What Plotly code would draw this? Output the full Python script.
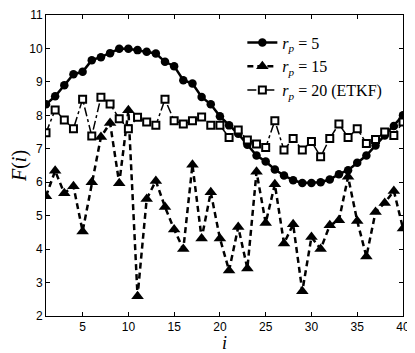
# F(i) for three localisation radii, redrawn with plotly
import plotly.graph_objects as go

idx = list(range(1, 41))

rp5 = [8.33, 8.57, 8.90, 9.23, 9.30, 9.65, 9.74, 9.86, 9.99, 9.99,
       9.95, 9.90, 9.85, 9.60, 9.47, 9.05, 8.95, 8.55, 8.33, 7.97,
       7.70, 7.45, 7.12, 6.80, 6.62, 6.38, 6.20, 6.06, 5.98, 5.98,
       6.00, 6.08, 6.24, 6.36, 6.58, 6.80, 7.10, 7.40, 7.68, 8.00]

rp15 = [5.58, 6.34, 5.67, 5.88, 4.53, 6.00, 7.35, 7.77, 5.97, 8.15,
        2.59, 5.50, 6.04, 5.26, 4.59, 4.00, 6.52, 4.32, 5.70, 4.32,
        3.36, 4.66, 3.42, 6.31, 4.78, 5.94, 4.17, 4.74, 2.74, 4.36,
        4.00, 4.71, 4.86, 6.16, 4.84, 3.78, 5.11, 5.38, 5.74, 4.62]

rp20 = [7.48, 8.16, 7.86, 7.60, 8.48, 7.38, 8.54, 8.34, 7.90, 7.60,
        7.94, 7.80, 7.70, 8.48, 7.84, 7.74, 7.84, 7.95, 7.70, 7.70,
        7.34, 7.56, 7.26, 7.14, 7.04, 7.84, 6.96, 7.31, 6.96, 7.22,
        6.76, 7.31, 7.74, 7.34, 7.60, 7.16, 7.28, 7.50, 7.40, 7.80]

names = ["<i>r</i><sub><i>p</i></sub> = 5",
         "<i>r</i><sub><i>p</i></sub> = 15",
         "<i>r</i><sub><i>p</i></sub> = 20 (ETKF)"]

fig = go.Figure()
fig.add_trace(go.Scatter(
    x=idx, y=rp5, name=names[0], mode="lines+markers",
    line=dict(color="black", width=2.5),
    marker=dict(symbol="circle", size=8.5, color="black")))
fig.add_trace(go.Scatter(
    x=idx, y=rp15, name=names[1], mode="lines+markers",
    line=dict(color="black", width=2.5, dash="6px,4px"),
    marker=dict(symbol="triangle-up", size=11, color="black")))
fig.add_trace(go.Scatter(
    x=idx, y=rp20, name=names[2], mode="lines+markers",
    line=dict(color="black", width=1.5, dash="dashdot"),
    marker=dict(symbol="square", size=7, color="white",
                line=dict(color="black", width=2))))

axis = dict(showgrid=False, zeroline=False, showline=True, linecolor="black",
            linewidth=1, mirror="ticks", ticks="inside", ticklen=4,
            tickcolor="black", automargin=False,
            tickfont=dict(family="Liberation Sans, Arial", size=12, color="black"))

fig.update_xaxes(range=[1, 40], tickvals=[5, 10, 15, 20, 25, 30, 35, 40], **axis)
fig.update_yaxes(range=[2, 11], dtick=1,
                 title=dict(text="<i>F</i>(<i>i</i>)", standoff=6,
                            font=dict(family="Liberation Serif", size=20, color="black")),
                 **axis)

# x-axis label as annotation so it does not push the margins
fig.add_annotation(text="<i>i</i>", xref="paper", yref="paper", x=0.5, y=0,
                   xanchor="center", yanchor="top", yshift=-15, showarrow=False,
                   font=dict(family="Liberation Serif", size=18, color="black"))

# the page body adds an 8px offset, so the figure is sized to what is left
fig.update_layout(
    width=407, height=345,
    margin=dict(l=38, r=12, t=7, b=37),
    plot_bgcolor="white", paper_bgcolor="white",
    legend=dict(x=0.55, y=0.965, xanchor="left", yanchor="top",
                bgcolor="rgba(0,0,0,0)", itemwidth=30,
                font=dict(family="Liberation Serif", size=16, color="black")),
)

fig.write_html("out.html")
